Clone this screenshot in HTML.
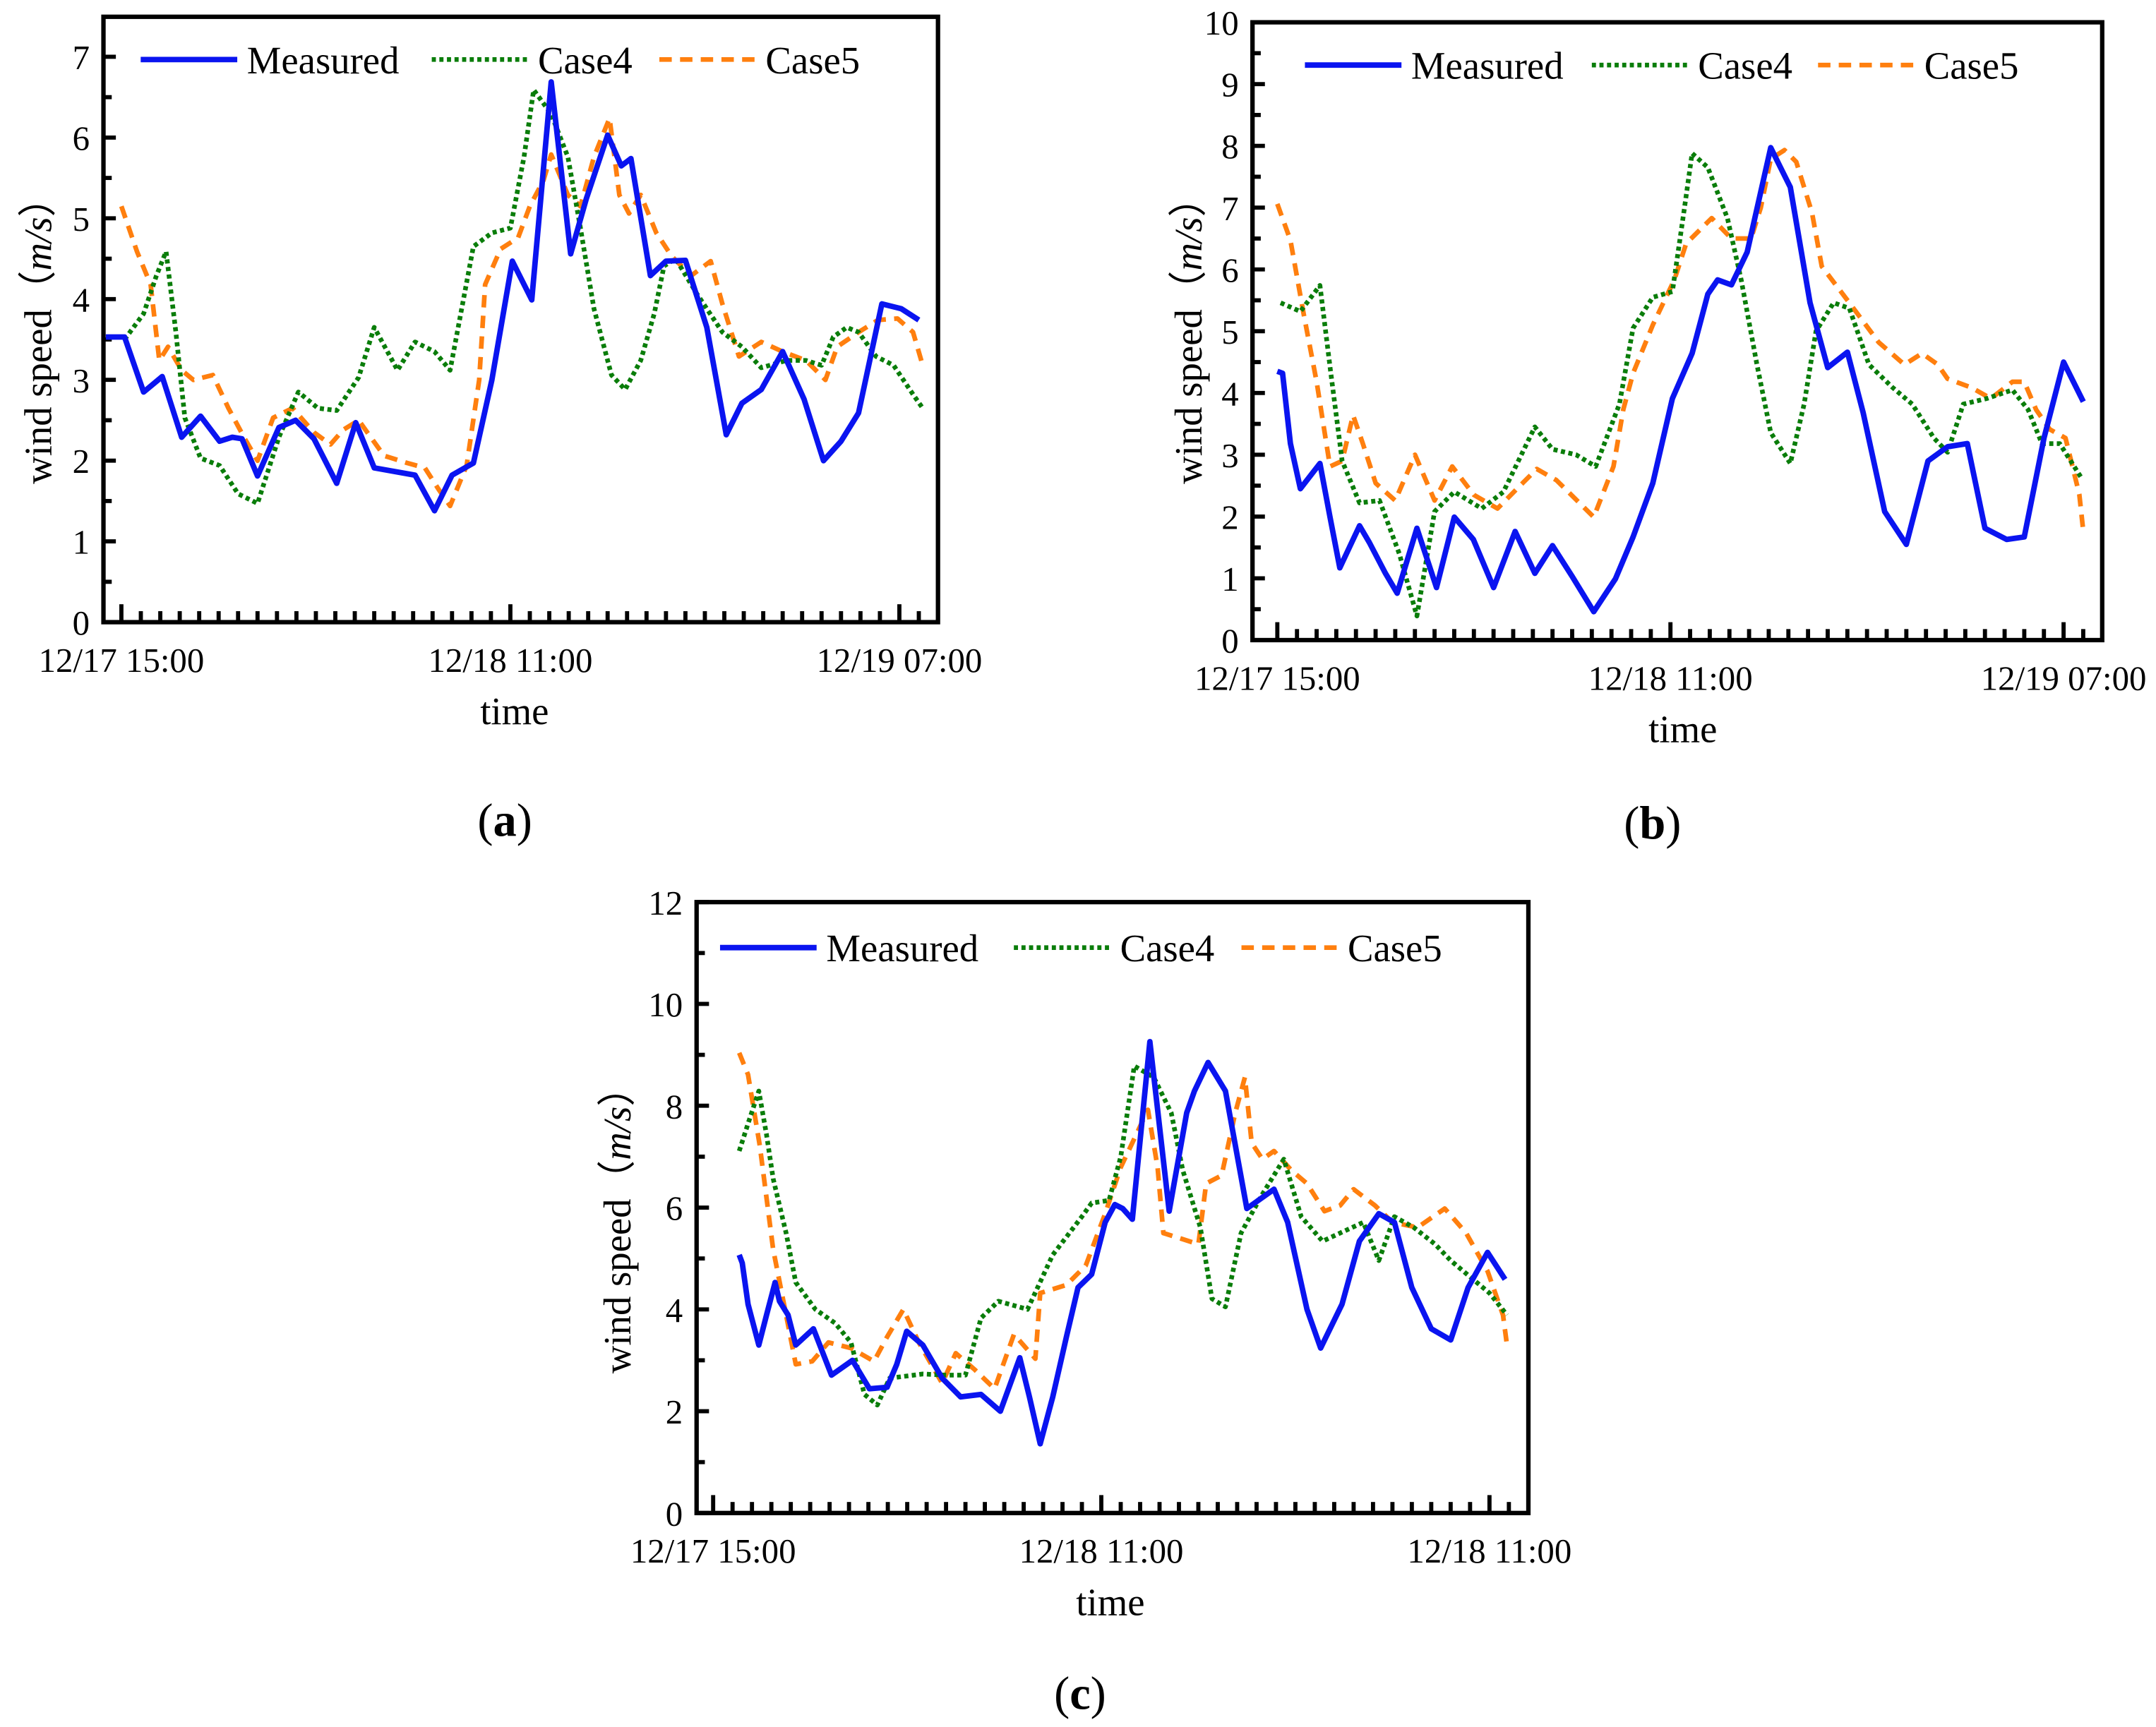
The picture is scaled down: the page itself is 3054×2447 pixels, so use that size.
<!DOCTYPE html>
<html><head><meta charset="utf-8"><style>
html,body{margin:0;padding:0;background:#fff;}
svg{display:block;}
svg text{font-family:"Liberation Serif","Times New Roman",serif;fill:#000;}
</style></head><body>
<svg id="fig" width="3054" height="2447" viewBox="0 0 1563 1252" xmlns="http://www.w3.org/2000/svg" font-family="Liberation Serif, serif"></svg>
<script>
// ---------- data (hour offset from 12/17 15:00, value m/s) ----------
const aMeasH=[-0.8,0.16,1.14,2.1,3.1,4.07,5.05,5.7,6.2,7.0,8.1,8.96,9.9,11.07,12.05,13.0,15.1,16.1,17.0,18.1,19.05,20.1,21.1,22.1,23.1,23.9,25.0,25.7,26.2,27.2,28.0,29.0,30.1,31.1,31.9,32.9,34.0,35.1,36.1,37.0,37.9,39.1,40.1,41.0];
const aMeasV=[3.53,3.53,2.85,3.04,2.29,2.55,2.24,2.29,2.27,1.81,2.41,2.5,2.27,1.72,2.47,1.91,1.82,1.38,1.82,1.97,3.0,4.47,3.99,6.69,4.56,5.24,6.03,5.65,5.74,4.29,4.47,4.48,3.65,2.32,2.71,2.88,3.35,2.76,2.0,2.24,2.59,3.94,3.88,3.74];
const aC4H=[0.16,1.14,1.8,2.3,2.8,3.26,4.07,5.05,6.0,7.0,8.1,9.1,10.1,11.07,12.2,13.0,14.2,15.1,16.1,16.9,18.1,19.05,20.0,20.7,21.2,22.1,22.96,23.6,24.3,25.2,25.9,26.7,27.4,27.9,28.5,29.6,30.9,31.9,32.9,34.2,35.2,36.0,36.6,37.3,37.9,38.8,39.7,40.7,41.2];
const aC4V=[3.5,3.82,4.29,4.59,3.59,2.53,2.03,1.94,1.59,1.47,2.29,2.85,2.65,2.62,3.03,3.65,3.12,3.47,3.35,3.12,4.65,4.82,4.88,5.76,6.59,6.29,5.76,4.88,3.88,3.06,2.88,3.24,3.82,4.41,4.5,4.06,3.59,3.41,3.15,3.24,3.24,3.18,3.53,3.65,3.59,3.29,3.18,2.82,2.65];
const aC5H=[0,0.8,1.5,1.95,2.4,3.1,3.7,4.7,5.5,6.35,7.0,7.8,8.8,9.9,10.75,11.4,12.2,13.5,14.7,15.6,16.3,16.9,17.75,18.4,18.7,19.5,20.4,21.0,21.7,22.1,22.96,23.6,24.3,25.1,25.6,26.1,26.7,27.5,28.3,29.3,30.3,30.9,31.75,32.9,34.0,35.2,36.2,36.8,37.9,38.9,39.9,40.7,41.2];
const aC5V=[5.15,4.59,4.18,3.24,3.41,3.12,3.0,3.06,2.65,2.27,2.0,2.53,2.65,2.35,2.2,2.38,2.5,2.06,1.97,1.91,1.65,1.44,1.94,3.0,4.18,4.62,4.76,5.15,5.47,5.79,5.29,5.15,5.76,6.24,5.29,5.06,5.29,4.82,4.53,4.29,4.47,3.94,3.29,3.47,3.35,3.24,3.0,3.41,3.59,3.74,3.76,3.59,3.18];

const bMeasH=[0,0.27,0.67,1.17,2.17,2.68,3.18,4.18,4.68,5.5,6.1,7.1,8.1,9.0,9.97,11.0,12.1,13.1,14.0,15.0,16.1,17.2,18.1,19.1,20.1,21.1,21.9,22.4,23.1,23.9,25.1,25.6,26.1,27.1,28.0,29.0,29.8,30.9,32.0,33.1,34.1,35.1,36.0,37.1,38.0,39.0,40.0,41.0];
const bMeasV=[4.35,4.32,3.18,2.45,2.86,1.99,1.17,1.85,1.58,1.08,0.76,1.81,0.85,1.99,1.63,0.85,1.76,1.08,1.53,1.03,0.46,0.99,1.67,2.54,3.91,4.64,5.6,5.83,5.75,6.28,7.97,7.65,7.33,5.46,4.41,4.66,3.68,2.08,1.55,2.9,3.13,3.18,1.81,1.63,1.67,3.27,4.5,3.86];
const bC4H=[0.17,1.17,2.17,2.7,3.3,4.18,5.2,6.2,7.1,8.0,9.0,10.4,11.5,13.1,14.0,15.2,16.2,17.4,18.1,19.1,20.1,20.7,21.1,21.9,22.9,23.6,24.4,25.1,26.1,26.8,27.4,28.3,29.1,30.1,31.3,32.3,33.4,34.1,34.9,36.1,37.4,38.2,38.9,39.8,40.9];
const bC4V=[5.46,5.32,5.74,4.37,2.9,2.22,2.26,1.4,0.39,2.08,2.4,2.13,2.4,3.45,3.09,3.0,2.81,3.82,5.05,5.55,5.64,6.97,7.88,7.65,6.83,5.83,4.46,3.36,2.86,3.82,5.0,5.46,5.37,4.46,4.09,3.82,3.27,3.04,3.82,3.91,4.05,3.73,3.18,3.18,2.63];
const bC5H=[0,0.67,1.34,2.0,2.68,3.3,3.85,4.35,5.0,6.0,7.0,8.0,8.9,10.0,11.2,12.2,13.2,14.2,16.1,17.1,17.6,18.1,19.1,20.2,20.8,22.1,23.1,24.1,24.6,25.1,25.8,26.4,27.2,27.7,29.1,30.6,31.9,32.8,33.6,34.1,35.3,36.3,37.4,38.0,38.6,39.3,40.1,40.8,41.0];
const bC5V=[7.06,6.47,5.28,4.18,2.81,2.9,3.64,3.18,2.54,2.26,3.0,2.26,2.81,2.35,2.13,2.45,2.77,2.59,1.99,2.81,3.73,4.32,5.1,5.83,6.42,6.83,6.5,6.5,7.0,7.79,7.93,7.74,6.92,6.05,5.46,4.82,4.46,4.64,4.46,4.23,4.09,3.91,4.18,4.18,3.73,3.41,3.27,2.36,1.76];

const cMeasH=[1.34,1.5,1.8,2.35,2.75,3.19,3.42,3.86,4.26,5.17,6.1,7.18,8.05,8.96,9.46,9.97,10.8,11.8,12.75,13.8,14.8,15.8,16.3,16.85,17.5,18.2,18.8,19.5,20.2,20.7,21.1,21.6,22.5,23.5,24.4,24.8,25.5,26.4,27.5,28.9,29.6,30.6,31.3,32.4,33.3,34.3,35.1,36.0,37.0,38.0,38.9,39.9,40.8];
const cMeasV=[5.07,4.91,4.1,3.3,3.89,4.53,4.16,3.89,3.3,3.62,2.71,3.0,2.44,2.47,2.92,3.57,3.3,2.65,2.28,2.33,2.0,3.05,2.28,1.36,2.28,3.46,4.43,4.69,5.71,6.06,5.98,5.77,9.26,5.93,7.86,8.29,8.85,8.29,5.98,6.36,5.71,4.0,3.24,4.1,5.34,5.88,5.71,4.43,3.62,3.4,4.43,5.12,4.59];
const cC4H=[1.34,1.8,2.35,2.75,3.09,3.76,4.26,5.27,6.28,7.1,7.8,8.46,9.1,10.8,12.0,13.0,13.8,14.7,16.2,17.5,19.0,19.5,20.4,21.0,21.7,22.7,23.6,24.2,25.1,25.7,26.4,27.2,28.2,29.4,30.3,31.4,32.3,33.5,34.3,35.1,36.1,37.2,38.0,39.0,40.0,40.9];
const cC4V=[7.11,7.65,8.29,7.43,6.57,5.5,4.53,4.0,3.73,3.35,2.33,2.12,2.65,2.73,2.71,2.71,3.83,4.16,4.0,5.07,5.82,6.09,6.14,7.0,8.78,8.56,7.86,6.73,5.61,4.21,4.05,5.5,6.2,6.95,5.82,5.34,5.5,5.71,4.96,5.82,5.61,5.28,4.96,4.64,4.32,3.89];
const cC5H=[1.34,1.8,2.4,3.09,3.76,4.26,5.1,5.94,7.1,8.29,8.96,9.8,10.6,11.8,12.5,13.5,14.5,15.5,16.6,16.85,18.2,19.2,20.2,21.0,22.4,22.9,23.2,24.1,25.0,25.4,26.2,26.9,27.4,27.75,28.3,28.9,29.8,30.6,31.5,32.3,33.0,34.1,35.0,36.3,37.7,38.8,39.9,40.7,40.9];
const cC5V=[9.04,8.61,7.22,5.18,3.89,2.92,2.98,3.35,3.24,2.98,3.46,4.0,3.35,2.55,3.14,2.81,2.44,3.51,3.03,4.32,4.48,4.86,5.88,6.79,7.92,6.79,5.5,5.39,5.28,6.47,6.63,7.86,8.56,7.27,6.95,7.11,6.73,6.47,5.93,6.04,6.36,6.04,5.71,5.61,5.98,5.5,4.75,3.89,3.3];

const xTickLabelsAB=["12/17 15:00","12/18 11:00","12/19 07:00"];
const xTickLabelsC=["12/17 15:00","12/18 11:00","12/18 11:00"];
const xMajorHours=[0,20,40];

// ---------- drawing ----------
const NS="http://www.w3.org/2000/svg";
const svg=document.getElementById('fig');
function mk(tag,attrs,parent){const e=document.createElementNS(NS,tag);for(const k in attrs)e.setAttribute(k,attrs[k]);(parent||svg).appendChild(e);return e;}

function panel(cfg){
  const g=mk('g',{});
  
  
  const X=h=>cfg.x0+h*cfg.pxh;
  const Y=v=>cfg.yb-(v/cfg.ymax)*(cfg.yb-cfg.yt);
  for(let v=0;v<=cfg.ymax+1e-9;v+=cfg.minor){
    const major=Math.abs(v/cfg.major-Math.round(v/cfg.major))<1e-6;
    const t=mk('line',{x1:cfg.L,x2:cfg.L+(major?9:6),y1:Y(v),y2:Y(v),stroke:'#000','stroke-width':3},g);
    
    
    if(major){
      const tx=mk('text',{x:cfg.L-10,y:Y(v)+9,'text-anchor':'end','font-size':25},g);
      tx.textContent=String(Math.round(v));
      
      
    }
  }
  for(let h=0;h<=41;h++){
    const major=xMajorHours.indexOf(h)>=0;
    const t=mk('line',{x1:X(h),x2:X(h),y1:cfg.yb,y2:cfg.yb-(major?13:8),stroke:'#000','stroke-width':3},g);
    
    
  }
  xMajorHours.forEach((h,i)=>{
    const tx=mk('text',{x:X(h),y:cfg.yb+36,'text-anchor':'middle','font-size':25},g);
    tx.textContent=cfg.xlabels[i];
    
    
  });
  const series=[
    {h:cfg.c5h,v:cfg.c5v,c:'#ff7f0e',w:3.4,d:'9 6',n:'case5-line'},
    {h:cfg.c4h,v:cfg.c4v,c:'#0a7d0a',w:3.4,d:'3 2.5',n:'case4-line'},
    {h:cfg.mh,v:cfg.mv,c:'#0a14f0',w:4,d:'',n:'measured-line'}
  ];
  series.forEach(s=>{
    const pts=s.h.map((h,i)=>X(h).toFixed(1)+','+Y(s.v[i]).toFixed(1)).join(' ');
    const p=mk('polyline',{points:pts,fill:'none',stroke:s.c,'stroke-width':s.w,'stroke-linejoin':'round','stroke-dasharray':s.d},g);
    
    
  });
  const f=mk('rect',{x:cfg.L,y:cfg.yt0,width:cfg.R-cfg.L,height:cfg.yb-cfg.yt0,fill:'none',stroke:'#000','stroke-width':3.2},g);
  
  
  const lg=mk('g',{},g);
  
  
  const items=[['Measured','#0a14f0','',4],['Case4','#0a7d0a','3 2.5',3.4],['Case5','#ff7f0e','9 6',3.4]];
  items.forEach((it,i)=>{
    const lx=cfg.leg[i];
    const ln=mk('line',{x1:lx,x2:lx+70,y1:cfg.legY,y2:cfg.legY,stroke:it[1],'stroke-width':it[3],'stroke-dasharray':it[2]},lg);
    
    
    const tx=mk('text',{x:lx+77,y:cfg.legY+10,'font-size':28},lg);
    tx.textContent=it[0];
    
    
  });
  const xt=mk('text',{x:cfg.timeX,y:cfg.yb+74,'text-anchor':'middle','font-size':28},g);
  xt.textContent='time';
  
  
  const yt=mk('text',{x:0,y:0,'text-anchor':'middle','font-size':28,transform:`translate(${cfg.ytX},${cfg.ytY}) rotate(-90)`},g);
  yt.innerHTML='wind speed（<tspan font-style="italic">m/s</tspan>）';
  
  
  const pl=mk('text',{x:cfg.plX,y:cfg.plY,'text-anchor':'middle','font-size':34},g);
  pl.innerHTML='(<tspan font-weight="bold">'+cfg.letter+'</tspan>)';
  
  
}

panel({id:'panel-a',L:75,R:680,yt0:12,yt:41,yb:451,ymax:7,major:1,minor:0.5,x0:88,pxh:14.1,
  mh:aMeasH,mv:aMeasV,c4h:aC4H,c4v:aC4V,c5h:aC5H,c5v:aC5V,xlabels:xTickLabelsAB,
  leg:[102,313,478],legY:43,timeX:373,ytX:37,ytY:240,plX:366,plY:606,letter:'a'});
panel({id:'panel-b',L:908,R:1524,yt0:16,yt:16,yb:464,ymax:10,major:1,minor:0.5,x0:926,pxh:14.25,
  mh:bMeasH,mv:bMeasV,c4h:bC4H,c4v:bC4V,c5h:bC5H,c5v:bC5V,xlabels:xTickLabelsAB,
  leg:[946,1154,1318],legY:47,timeX:1220,ytX:871,ytY:240,plX:1198,plY:608,letter:'b'});
panel({id:'panel-c',L:505,R:1108,yt0:654,yt:654,yb:1097,ymax:12,major:2,minor:1,x0:517,pxh:14.07,
  mh:cMeasH,mv:cMeasV,c4h:cC4H,c4v:cC4V,c5h:cC5H,c5v:cC5V,xlabels:xTickLabelsC,
  leg:[522,735,900],legY:687,timeX:805,ytX:457,ytY:885,plX:783,plY:1239,letter:'c'});
</script>
</body></html>
